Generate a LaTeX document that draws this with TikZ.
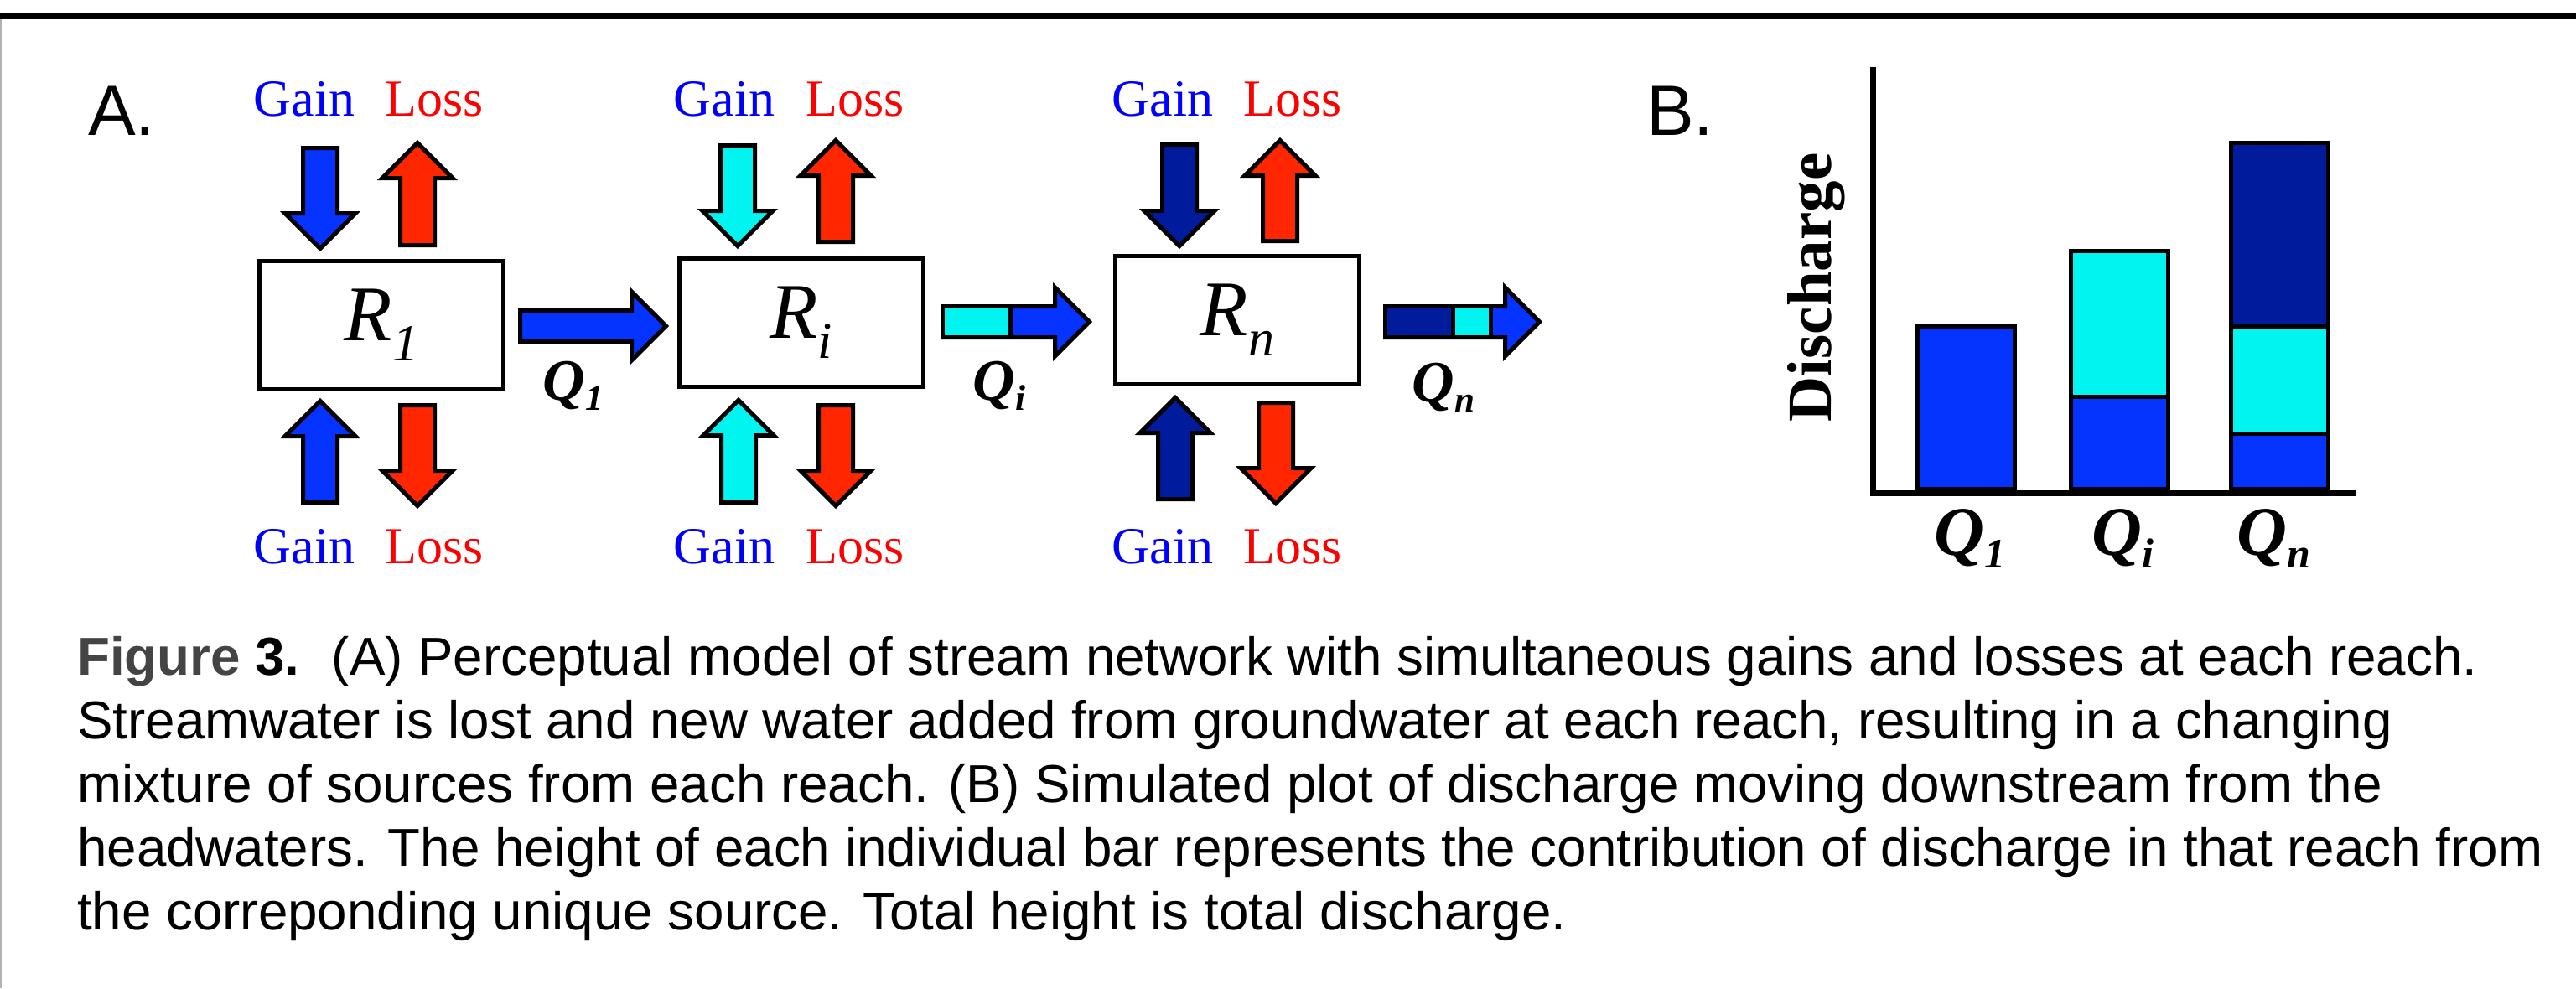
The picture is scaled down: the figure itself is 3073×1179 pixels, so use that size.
\documentclass[tikz,border=0pt]{standalone}
\usepackage{fontspec}
\setmainfont{Liberation Serif}
\newfontfamily\capfont{Liberation Sans}
\definecolor{blueA}{RGB}{5,51,255}
\definecolor{cyanA}{RGB}{0,245,240}
\definecolor{navyA}{RGB}{0,28,156}
\definecolor{redA}{RGB}{255,38,0}
\definecolor{gainC}{RGB}{0,0,255}
\definecolor{lossC}{RGB}{255,0,0}
\definecolor{figgray}{RGB}{68,68,68}
\newcommand\fs[1]{\fontsize{#1}{#1}\selectfont}
\tikzset{
  blockline/.style={draw=black, line width=5pt, line join=miter},
  rbox/.style={draw, line width=5pt, fill=white, minimum width=291pt,
    minimum height=153pt, inner sep=0pt},
  gainlab/.style={text=gainC, font=\fs{62}, anchor=base, inner sep=0pt},
  losslab/.style={text=lossC, font=\fs{62}, anchor=base, inner sep=0pt},
  qlab/.style={anchor=base, inner sep=0pt, font=\bfseries\itshape},
  panel/.style={anchor=base west, inner sep=0pt, font=\capfont\fs{85}},
  capline/.style={anchor=base west, inner sep=0pt, font=\capfont\fs{63.7}},
  bar/.style={draw=black, line width=5pt},
  axis/.style={line width=7pt}
}
% vertical block arrow: #1 centre x, #2 tail y, #3 tip y, #4 fill
\newcommand\blockv[4]{%
  \pgfmathsetmacro\hb{#3-42*sign(#3-#2)}%
  \draw[blockline, fill=#4] (#1-20.5,#2) -- (#1+20.5,#2) -- (#1+20.5,\hb)
    -- (#1+42,\hb) -- (#1,#3) -- (#1-42,\hb) -- (#1-20.5,\hb) -- cycle;}
% horizontal block arrow: #1 tail x, #2 tip x, #3 centre y, #4 fill
\newcommand\blockh[4]{%
  \pgfmathsetmacro\hb{#2-41}%
  \draw[blockline, fill=#4] (#1,#3-18.5) -- (\hb,#3-18.5) -- (\hb,#3-41)
    -- (#2,#3) -- (\hb,#3+41) -- (\hb,#3+18.5) -- (#1,#3+18.5) -- cycle;}
\begin{document}
\begin{tikzpicture}[x=1pt,y=-1pt]
\useasboundingbox (0,0) rectangle (3073,1179);
% frame
\draw[line width=7pt] (0,19.5) -- (3073,19.5);
\draw[gray!60, line width=2pt] (1,23) -- (1,1179);

% panel labels
\node[panel] (labA) at (105,161) {A.};
\node[panel] (labB) at (1964,161) {B.};

% reach boxes
\node[rbox] (R1) at (455,388) {\fs{94}\itshape R\raisebox{-24pt}{\fs{62}1}};
\node[rbox] (Ri) at (955.5,385) {\fs{94}\itshape R\raisebox{-24pt}{\fs{62}i}};
\node[rbox] (Rn) at (1476,381.5) {\fs{94}\itshape R\raisebox{-24pt}{\fs{62}n}};

% gain / loss arrows R1
\blockv{382}{176.5}{296.5}{blueA}
\blockv{498}{292.5}{170.5}{redA}
\blockv{382}{599.5}{478.5}{blueA}
\blockv{498}{483.5}{603.5}{redA}
% Ri
\blockv{880}{173.5}{293.5}{cyanA}
\blockv{997}{288.5}{167.5}{redA}
\blockv{881}{599.5}{477.5}{cyanA}
\blockv{997}{483.5}{603.5}{redA}
% Rn
\blockv{1407}{172.5}{293.5}{navyA}
\blockv{1527}{287.5}{167.5}{redA}
\blockv{1402}{595.5}{474.5}{navyA}
\blockv{1522}{480.5}{600.5}{redA}

% gain / loss labels
\node[gainlab] (G1t) at (363,138) {Gain};
\node[losslab] (L1t) at (518,138) {Loss};
\node[gainlab] (G1b) at (363,672) {Gain};
\node[losslab] (L1b) at (518,672) {Loss};
\node[gainlab] (Git) at (864,138) {Gain};
\node[losslab] (Lit) at (1020,138) {Loss};
\node[gainlab] (Gib) at (864,672) {Gain};
\node[losslab] (Lib) at (1020,672) {Loss};
\node[gainlab] (Gnt) at (1387,138) {Gain};
\node[losslab] (Lnt) at (1542,138) {Loss};
\node[gainlab] (Gnb) at (1387,672) {Gain};
\node[losslab] (Lnb) at (1542,672) {Loss};

% discharge arrows
\blockh{620.5}{794.5}{389}{blueA}
\blockh{1124.5}{1299.5}{384}{blueA}
\draw[blockline, fill=cyanA] (1124.5,365.5) rectangle (1205,402.5);
\blockh{1652.5}{1836.5}{384}{blueA}
\draw[blockline, fill=navyA] (1652.5,365.5) rectangle (1733,402.5);
\draw[blockline, fill=cyanA] (1733,365.5) rectangle (1778,402.5);

\node[qlab] (q1a) at (684,477) {\fs{70}Q\raisebox{-12pt}{\fs{43}1}};
\node[qlab] (qia) at (1192,477) {\fs{70}Q\raisebox{-12pt}{\fs{43}i}};
\node[qlab] (qna) at (1722,479) {\fs{70}Q\raisebox{-12pt}{\fs{43}n}};

% panel B chart
\coordinate (orig) at (2234,588);
\coordinate (ytop) at (2234,80);
\coordinate (xend) at (2811,588);
\draw[axis] (ytop) -- (orig) -- (xend);
\draw[bar, fill=blueA] (2287,389) rectangle (2403,583);
\draw[bar, fill=blueA] (2470,473) rectangle (2586,583);
\draw[bar, fill=cyanA] (2470,299) rectangle (2586,473);
\draw[bar, fill=blueA] (2661,517) rectangle (2777,583);
\draw[bar, fill=cyanA] (2661,389) rectangle (2777,517);
\draw[bar, fill=navyA] (2661,170) rectangle (2777,389);
\node[rotate=90, anchor=base, inner sep=0pt, font=\bfseries\fs{75}] (ylab) at (2184,343) {Discharge};
\node[qlab] (q1b) at (2350,662) {\fs{83}Q\raisebox{-15pt}{\fs{50}1}};
\node[qlab] (qib) at (2532,662) {\fs{83}Q\raisebox{-15pt}{\fs{50}i}};
\node[qlab] (qnb) at (2712,662) {\fs{83}Q\raisebox{-15pt}{\fs{50}n}};

% caption
\node[capline] (c1) at (92,805) {{\bfseries\color{figgray}Figure}\textbf{ 3.}\hspace{0.6em}(A) Perceptual model of stream network with simultaneous gains and losses at each reach.};
\node[capline] (c2) at (92,881) {Streamwater is lost and new water added from groundwater at each reach, resulting in a changing};
\node[capline] (c3) at (92,957) {mixture of sources from each reach. (B) Simulated plot of discharge moving downstream from the};
\node[capline] (c4) at (92,1033) {headwaters. The height of each individual bar represents the contribution of discharge in that reach from};
\node[capline] (c5) at (92,1109) {the correponding unique source. Total height is total discharge.};
\end{tikzpicture}
\end{document}
